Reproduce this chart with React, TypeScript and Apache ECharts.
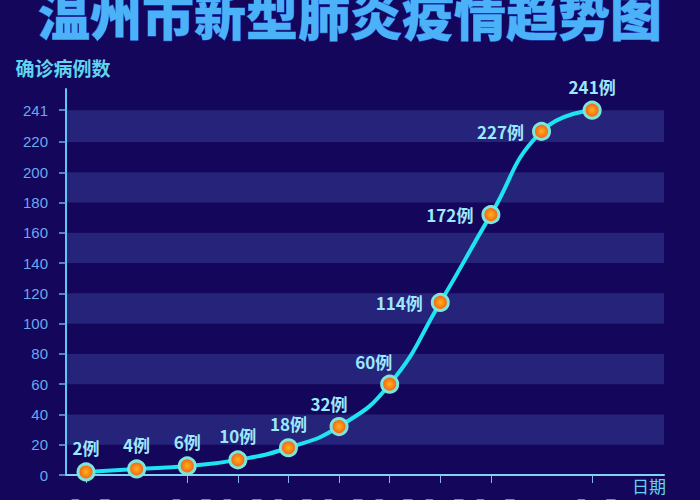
import React, { useEffect, useRef } from 'react';
import * as echarts from 'echarts';

// 日期（横轴）
const dates = ['1月21日', '1月22日', '1月23日', '1月24日', '1月25日', '1月26日', '1月27日', '1月28日', '1月29日', '1月30日', '1月31日'];
// 确诊病例数
const cases = [2, 4, 6, 10, 18, 32, 60, 114, 172, 227, 241];
// 纵轴刻度
const yTicks = [0, 20, 40, 60, 80, 100, 120, 140, 160, 180, 200, 220, 241];

const titleText = '温州市新型肺炎疫情趋势图';

// 每个标签的摆放方式
function labelFor(i: number) {
  if (i === 5) return { position: 'top', offset: [-10, 0] };
  if (i === 6) return { position: 'top', offset: [-16, 0] };
  if (i >= 7 && i <= 9) return { position: 'left', distance: 8 };
  return { position: 'top', distance: 6 };
}

export default function App() {
  const chartRef = useRef<HTMLDivElement>(null);

  useEffect(() => {
    const chart = echarts.init(chartRef.current!, null, { renderer: 'svg' });

    const option = {
      animation: false,
      backgroundColor: '#14065a',
      grid: { left: 66, right: 36, top: 89, bottom: 25, containLabel: false, outerBoundsMode: 'none' },
      title: {
        text: titleText,
        left: 'center',
        top: -18,
        textStyle: {
          fontSize: 52,
          fontWeight: 900,
          fontFamily: '"Noto Sans CJK SC", sans-serif',
          color: '#4cb2f8',
          textBorderColor: '#2a5fe0',
          textBorderWidth: 1,
        },
      },
      xAxis: {
        type: 'value',
        min: -0.395,
        max: 11.42,
        name: '日期',
        nameLocation: 'end',
        nameGap: 2,
        nameTextStyle: {
          color: '#5fd4f0',
          fontSize: 17,
          align: 'right',
          verticalAlign: 'top',
          padding: [2, 0, 0, 0],
          fontFamily: '"Noto Sans CJK SC", sans-serif',
        },
        axisLine: { onZero: false, lineStyle: { color: '#7fd2f2', width: 2 } },
        axisTick: {
          customValues: dates.map((_, i) => i),
          length: 8,
          lineStyle: { color: '#8fb4e8', width: 1 },
        },
        axisLabel: {
          customValues: dates.map((_, i) => i),
          formatter: (v: number) => dates[Math.round(v)] ?? '',
          showMinLabel: true,
          showMaxLabel: true,
          hideOverlap: false,
          color: '#6aa9f0',
          fontSize: 14,
          margin: 23,
        },
        splitLine: { show: false },
      },
      yAxis: {
        type: 'value',
        min: 0,
        max: 255,
        interval: 20,
        name: '确诊病例数',
        nameLocation: 'end',
        nameGap: 12,
        nameTextStyle: {
          color: '#5fd4f0',
          fontSize: 19,
          fontWeight: 'bold',
          fontFamily: '"Noto Sans CJK SC", sans-serif',
          padding: [0, 6, 0, 0],
        },
        axisLine: { show: true, onZero: false, lineStyle: { color: '#5ec8f0', width: 2 } },
        axisTick: {
          show: true,
          customValues: yTicks,
          length: 7,
          lineStyle: { color: '#6aa9f0', width: 1.5 },
        },
        axisLabel: {
          customValues: yTicks,
          color: '#6aa9f0',
          fontSize: 15,
          margin: 18,
        },
        splitLine: { show: false },
        splitArea: {
          show: true,
          areaStyle: { color: ['rgba(0,0,0,0)', '#26237a'] },
        },
      },
      series: [
        {
          type: 'line',
          smooth: 0.5,
          data: cases.map((c, i) => ({ value: [i, c], label: labelFor(i) })),
          lineStyle: { color: '#1ee4f2', width: 4 },
          symbol: 'circle',
          symbolSize: 16,
          itemStyle: {
            color: new echarts.graphic.RadialGradient(0.5, 0.5, 0.5, [
              { offset: 0, color: '#ffb01e' },
              { offset: 1, color: '#f05a10' },
            ]),
            borderColor: '#7de6dc',
            borderWidth: 3,
          },
          label: {
            show: true,
            formatter: (p: any) => p.value[1] + '例',
            color: '#9be8ff',
            fontSize: 17,
            fontWeight: 'bold',
            fontFamily: '"Noto Sans CJK SC", sans-serif',
          },
        },
      ],
    };

    chart.setOption(option as any);

    return () => {
      chart.dispose();
    };
  }, []);

  return (
    <div style={{ position: 'fixed', left: 0, top: 0, width: 700, height: 500, background: '#14065a' }}>
      <div ref={chartRef} style={{ width: '700px', height: '500px' }} />
    </div>
  );
}
